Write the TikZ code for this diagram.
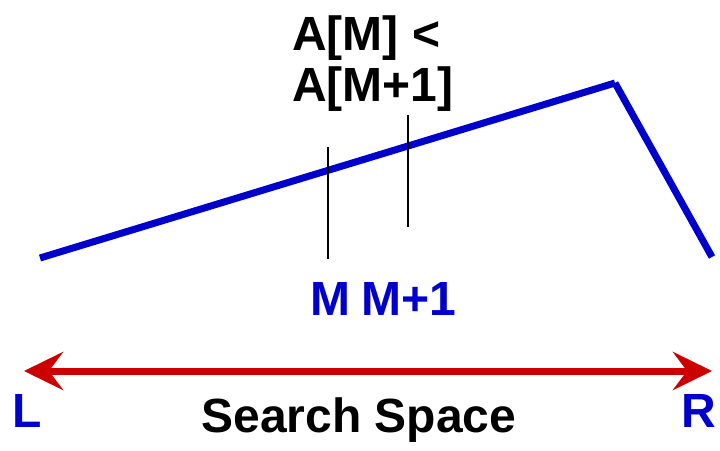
\documentclass[tikz,border=0pt]{standalone}
\usepackage{fontspec}
\setmainfont{Liberation Sans}
\usetikzlibrary{arrows.meta,positioning}
\definecolor{peakblue}{RGB}{0,0,204}
\definecolor{spacered}{RGB}{204,0,0}

\begin{document}
\begin{tikzpicture}[x=1pt, y=-1pt, >={Stealth[length=39pt,width=38pt,inset=14pt]},
	big/.style={font=\fontsize{48}{52}\selectfont\bfseries, inner sep=0pt}]
	\useasboundingbox (0,0) rectangle (720,450);

	% 1. The mountain (two blue segments)
	\coordinate (left) at (40,258);
	\coordinate (peak) at (615,83);
	\coordinate (right) at (712,257);
	\draw[peakblue, line width=7pt] (left) -- (peak);
	\draw[peakblue, line width=7pt] (peak) -- (right);

	% 2. Marks for M and M+1
	\coordinate (mtop) at (328,147);
	\coordinate (mbot) at (328,259);
	\coordinate (nTop) at (408,115);
	\coordinate (nBot) at (408,227);
	\draw[line width=1.6pt] (mtop) -- (mbot);
	\draw[line width=1.6pt] (nTop) -- (nBot);

	% 3. Labels
	\node[big, anchor=base west] (cmp1) at (292,50) {A[M] <};
	\node[big, anchor=base west] (cmp2) at (292,101) {A[M+1]};
	\node[big, peakblue, anchor=base] (mlbl) at (330,315) {M};
	\node[big, peakblue, anchor=base] (nlbl) at (409,315) {M+1};

	% 4. Search space arrow
	\coordinate (sl) at (24,371);
	\coordinate (sr) at (712,371);
	\draw[<->, spacered, line width=7pt] (sl) -- (sr);
	\node[big, peakblue, anchor=base] (L) at (27,427) {L};
	\node[big, peakblue, anchor=base] (R) at (699,427) {R};
	\node[big, anchor=base] (space) at (359,432) {Search Space};
\end{tikzpicture}
\end{document}
